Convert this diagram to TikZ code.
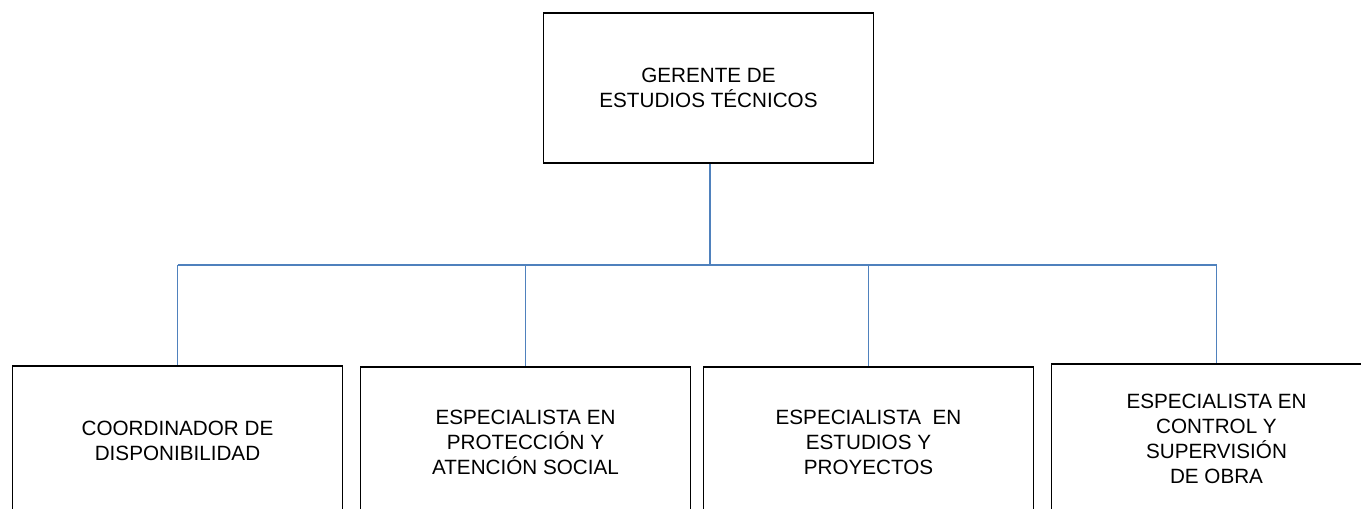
\documentclass[tikz,border=0pt]{standalone}
\usepackage{fontspec}
\setmainfont{Liberation Sans}
\begin{document}
\begin{tikzpicture}[x=0.75pt,y=-0.75pt,
  orgbox/.style={draw=black,line width=1.3pt,fill=white,minimum width=330*0.75pt,minimum height=150*0.75pt,inner sep=0pt,align=center,font=\fontsize{15.5pt}{18.8pt}\selectfont},
  conn/.style={draw={rgb,255:red,79;green,129;blue,189},line width=1.4pt}]
\useasboundingbox (0,0) rectangle (1361,509);
\clip (0,0) rectangle (1361,509);
\node[orgbox] (top) at (708.5,88) {GERENTE DE\\ESTUDIOS TÉCNICOS};
\node[orgbox] (b1) at (177.5,441) {COORDINADOR DE\\DISPONIBILIDAD};
\node[orgbox] (b2) at (525.5,442) {ESPECIALISTA EN\\PROTECCIÓN Y\\ATENCIÓN SOCIAL};
\node[orgbox] (b3) at (868.5,442) {ESPECIALISTA\ \ EN\\ESTUDIOS Y\\PROYECTOS};
\node[orgbox] (b4) at (1216.5,439) {ESPECIALISTA EN\\CONTROL Y\\SUPERVISIÓN\\DE OBRA};
\coordinate (bus) at (710,265);
\draw[conn] (top.south -| bus) -- (bus);
\draw[conn] (b1.north |- bus) -- (b4.north |- bus);
\draw[conn] (b1.north |- bus) -- (b1.north);
\draw[conn] (b2.north |- bus) -- (b2.north);
\draw[conn] (b3.north |- bus) -- (b3.north);
\draw[conn] (b4.north |- bus) -- (b4.north);
\end{tikzpicture}
\end{document}
